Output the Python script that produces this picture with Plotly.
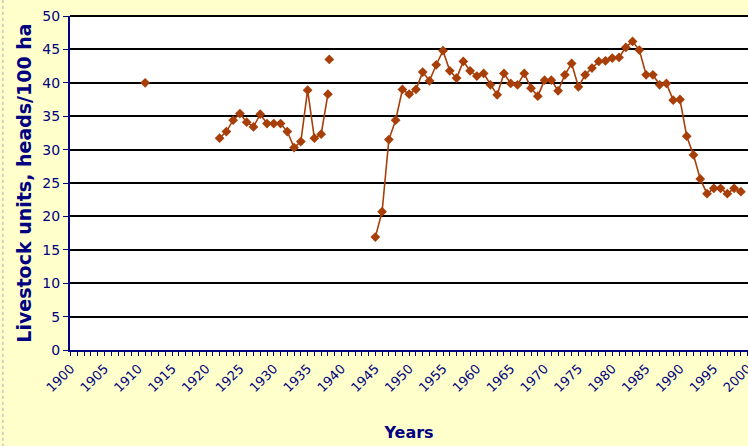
import plotly.graph_objects as go

# Livestock density (livestock units, heads per 100 ha) by year
early_years = [1911]
early_values = [40.0]

interwar_years = list(range(1922, 1939))
interwar_values = [31.7, 32.7, 34.4, 35.4, 34.1, 33.4, 35.3, 33.9, 33.9, 33.9,
                   32.7, 30.3, 31.2, 38.9, 31.7, 32.3, 38.3]

# separate 1938 figure (different territorial basis)
alt_years = [1938.2]
alt_values = [43.5]

postwar_years = list(range(1945, 2000))
postwar_values = [16.9, 20.7, 31.5, 34.4, 39.0, 38.3, 39.0, 41.6, 40.3, 42.7,
                  44.8, 41.8, 40.7, 43.2, 41.8, 41.0, 41.4, 39.7, 38.2, 41.4,
                  39.9, 39.7, 41.4, 39.2, 38.0, 40.4, 40.4, 38.8, 41.2, 42.9,
                  39.4, 41.2, 42.2, 43.2, 43.3, 43.7, 43.8, 45.3, 46.2, 44.9,
                  41.2, 41.2, 39.7, 39.9, 37.4, 37.5, 32.0, 29.2, 25.6, 23.4,
                  24.2, 24.2, 23.4, 24.2, 23.7]

x_tick_years = list(range(1900, 2001, 5))
y_ticks = list(range(0, 51, 5))

# Join the segments, leaving gaps between them
xs, ys = [], []
for yrs, vals in [(early_years, early_values), (interwar_years, interwar_values),
                  (alt_years, alt_values), (postwar_years, postwar_values)]:
    if xs:
        xs.append(None)
        ys.append(None)
    xs.extend(yrs)
    ys.extend(vals)

NAVY = "#000080"
LINE = "#A83E08"

fig = go.Figure()
fig.add_trace(go.Scatter(
    x=xs, y=ys, mode="lines+markers", connectgaps=False,
    line=dict(color=LINE, width=1.6),
    marker=dict(symbol="diamond", size=7.5, color=LINE),
    showlegend=False, hoverinfo="x+y",
))

fig.update_layout(
    width=748, height=446,
    margin=dict(l=70, r=0, t=16, b=96),
    paper_bgcolor="#FFFFCC",
    plot_bgcolor="#FFFFFF",
    font=dict(family="DejaVu Sans", color=NAVY),
    xaxis=dict(
        range=[1899.9, 2000.05], automargin=False,
        tickmode="array", tickvals=x_tick_years,
        ticktext=[str(v) for v in x_tick_years],
        tickangle=-45, tickfont=dict(size=13, color=NAVY),
        ticklabeloverflow="allow",
        showgrid=False, zeroline=False,
        showline=True, linecolor=NAVY, linewidth=2,
        ticks="outside", ticklen=4, tickcolor=NAVY, tickwidth=1,
        minor=dict(dtick=1, ticks="outside", ticklen=4, tickcolor=NAVY, tickwidth=1),
        title=dict(text="<b>Years</b>", font=dict(size=16, color=NAVY), standoff=33),
    ),
    yaxis=dict(
        range=[0, 50], tickmode="array", tickvals=y_ticks, automargin=False,
        tickfont=dict(size=14, color=NAVY),
        showgrid=True, gridcolor="#000000", gridwidth=2,
        zeroline=False,
        showline=True, linecolor=NAVY, linewidth=2,
        ticks="outside", ticklen=5, tickcolor=NAVY, tickwidth=1,
        title=dict(text="<b>Livestock units, heads/100 ha</b>",
                   font=dict(size=19, color=NAVY), standoff=6),
    ),
    shapes=[
        dict(type="line", xref="paper", yref="paper", x0=0, x1=1, y0=1, y1=1,
             line=dict(color="#000000", width=2)),
        dict(type="line", xref="paper", yref="paper", x0=-0.099, x1=-0.099,
             y0=-0.29, y1=1.05, line=dict(color="#AAAAAA", width=1, dash="dot")),
    ],
)

fig.write_html("out.html")
